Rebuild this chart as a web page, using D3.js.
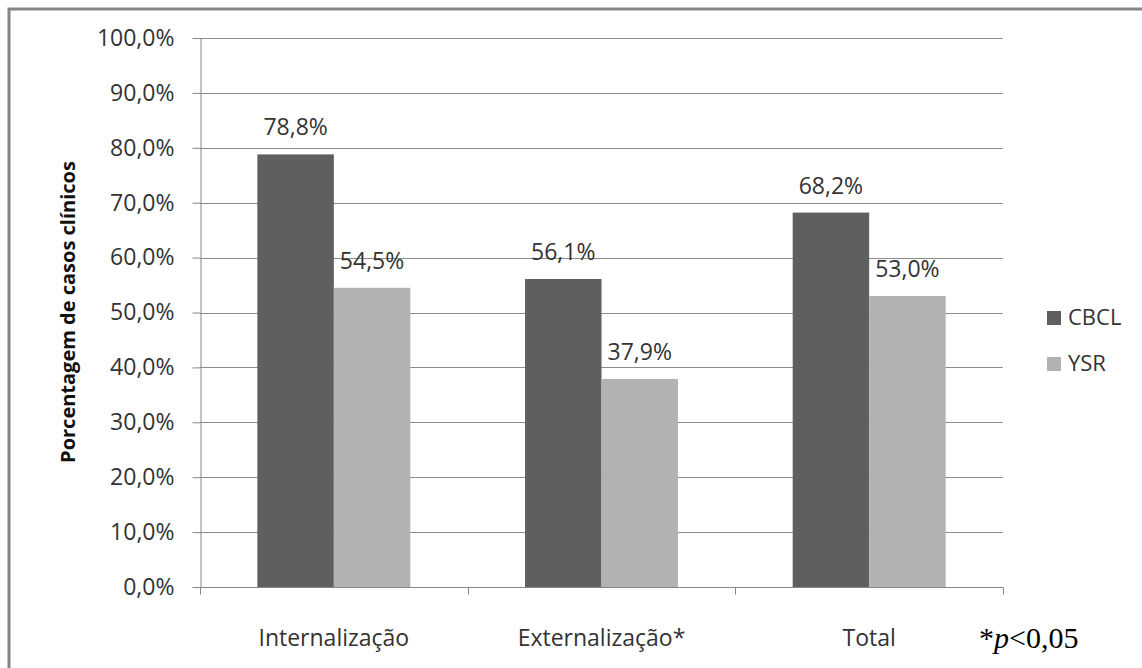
<!DOCTYPE html>
<head>
  <meta charset="utf-8">
  <title>Porcentagem de casos clínicos</title>
  <script src="https://d3js.org/d3.v7.min.js"></script>
  <style>
    body { margin: 0; background: #fff; }
    text { font-family: "Open Sans", sans-serif; fill: #333; }
    .grid line { stroke: #8c8c8c; stroke-width: 1; }
    .axis path, .axis line { stroke: #868686; }
  </style>
</head>
<body>
<div id="chart"></div>
<script>
// data
var categories = ["Internalização", "Externalização*", "Total"];
var series = ["CBCL", "YSR"];
var cbcl = [78.8, 56.1, 68.2];
var ysr = [54.5, 37.9, 53.0];
var yTicks = [0, 10, 20, 30, 40, 50, 60, 70, 80, 90, 100];
var colors = ["#5f5f5f", "#b2b2b2"];

var width = 1142, height = 668;
var svg = d3.select("#chart").append("svg")
  .attr("width", width)
  .attr("height", height);

// outer frame (runs off the right and bottom edge like the original)
svg.append("rect")
  .attr("x", 9).attr("y", 9)
  .attr("width", width).attr("height", height)
  .attr("fill", "none")
  .attr("stroke", "#858585")
  .attr("stroke-width", 3);

var x0 = d3.scaleBand().domain(categories).range([200, 1003]);
var x1 = d3.scaleBand().domain(series).range([0, x0.bandwidth()])
  .paddingInner(0).paddingOuter(0.75);
var y = d3.scaleLinear().domain([0, 100]).range([587, 38]);

var fmt = function(v) { return d3.format(".1f")(v).replace(".", ",") + "%"; };

// gridlines
svg.append("g").attr("class", "grid")
  .selectAll("line")
  .data(yTicks.filter(d => d > 0))
  .enter().append("line")
  .attr("x1", 200).attr("x2", 1003)
  .attr("y1", d => Math.round(y(d)) + 0.5)
  .attr("y2", d => Math.round(y(d)) + 0.5);

// bars
var rows = categories.map((c, i) => ({ cat: c, vals: [cbcl[i], ysr[i]] }));
var groups = svg.append("g").selectAll("g")
  .data(rows).enter().append("g")
  .attr("transform", d => "translate(" + x0(d.cat) + ",0)");

groups.selectAll("rect")
  .data(d => d.vals.map((v, j) => ({ s: series[j], v: v, j: j })))
  .enter().append("rect")
  .attr("x", d => x1(d.s))
  .attr("width", x1.bandwidth())
  .attr("y", d => y(d.v))
  .attr("height", d => y(0) - y(d.v))
  .attr("fill", d => colors[d.j]);

groups.selectAll("text")
  .data(d => d.vals.map((v, j) => ({ s: series[j], v: v })))
  .enter().append("text")
  .attr("x", d => x1(d.s) + x1.bandwidth() / 2)
  .attr("y", d => y(d.v) - 19)
  .attr("text-anchor", "middle")
  .style("font-size", "23px")
  .text(d => fmt(d.v));

// y axis
var yAxis = svg.append("g").attr("class", "axis")
  .attr("transform", "translate(200.5,0)")
  .call(d3.axisLeft(y).tickValues(yTicks).tickSize(8).tickSizeOuter(0)
    .tickFormat(fmt).tickPadding(18));
yAxis.selectAll("text").style("font-size", "23px").attr("fill", "#333");

// x axis
var xAxis = svg.append("g").attr("class", "axis")
  .attr("transform", "translate(0,587.5)");
xAxis.append("line").attr("x1", 200).attr("x2", 1003).attr("y1", 0).attr("y2", 0);
xAxis.selectAll(".tk")
  .data(categories.map(c => x0(c)).concat([1003]))
  .enter().append("line").attr("class", "tk")
  .attr("x1", d => Math.round(d) + 0.5).attr("x2", d => Math.round(d) + 0.5)
  .attr("y1", 0).attr("y2", 7);
xAxis.selectAll("text")
  .data(categories)
  .enter().append("text")
  .attr("x", d => x0(d) + x0.bandwidth() / 2)
  .attr("y", 58)
  .attr("text-anchor", "middle")
  .style("font-size", "23px")
  .text(d => d);

// y title
svg.append("text")
  .attr("transform", "translate(75,312) rotate(-90)")
  .attr("text-anchor", "middle")
  .style("font-size", "20px")
  .style("font-weight", "bold")
  .style("fill", "#111")
  .text("Porcentagem de casos clínicos");

// legend
var legend = svg.append("g").attr("transform", "translate(1047,311)");
var li = legend.selectAll("g").data(series).enter().append("g")
  .attr("transform", (d, i) => "translate(0," + i * 46 + ")");
li.append("rect").attr("width", 14).attr("height", 14)
  .attr("fill", (d, i) => colors[i]);
li.append("text").attr("x", 21).attr("y", 14)
  .style("font-size", "22px")
  .text(d => d);

// footnote
var fn = svg.append("text")
  .attr("x", 979).attr("y", 648)
  .style("font-family", "'Liberation Serif', 'Times New Roman', serif")
  .style("font-size", "30px")
  .style("fill", "#000");
fn.append("tspan").text("*");
fn.append("tspan").style("font-style", "italic").text("p");
fn.append("tspan").text("<0,05");
</script>
</body>
</html>
